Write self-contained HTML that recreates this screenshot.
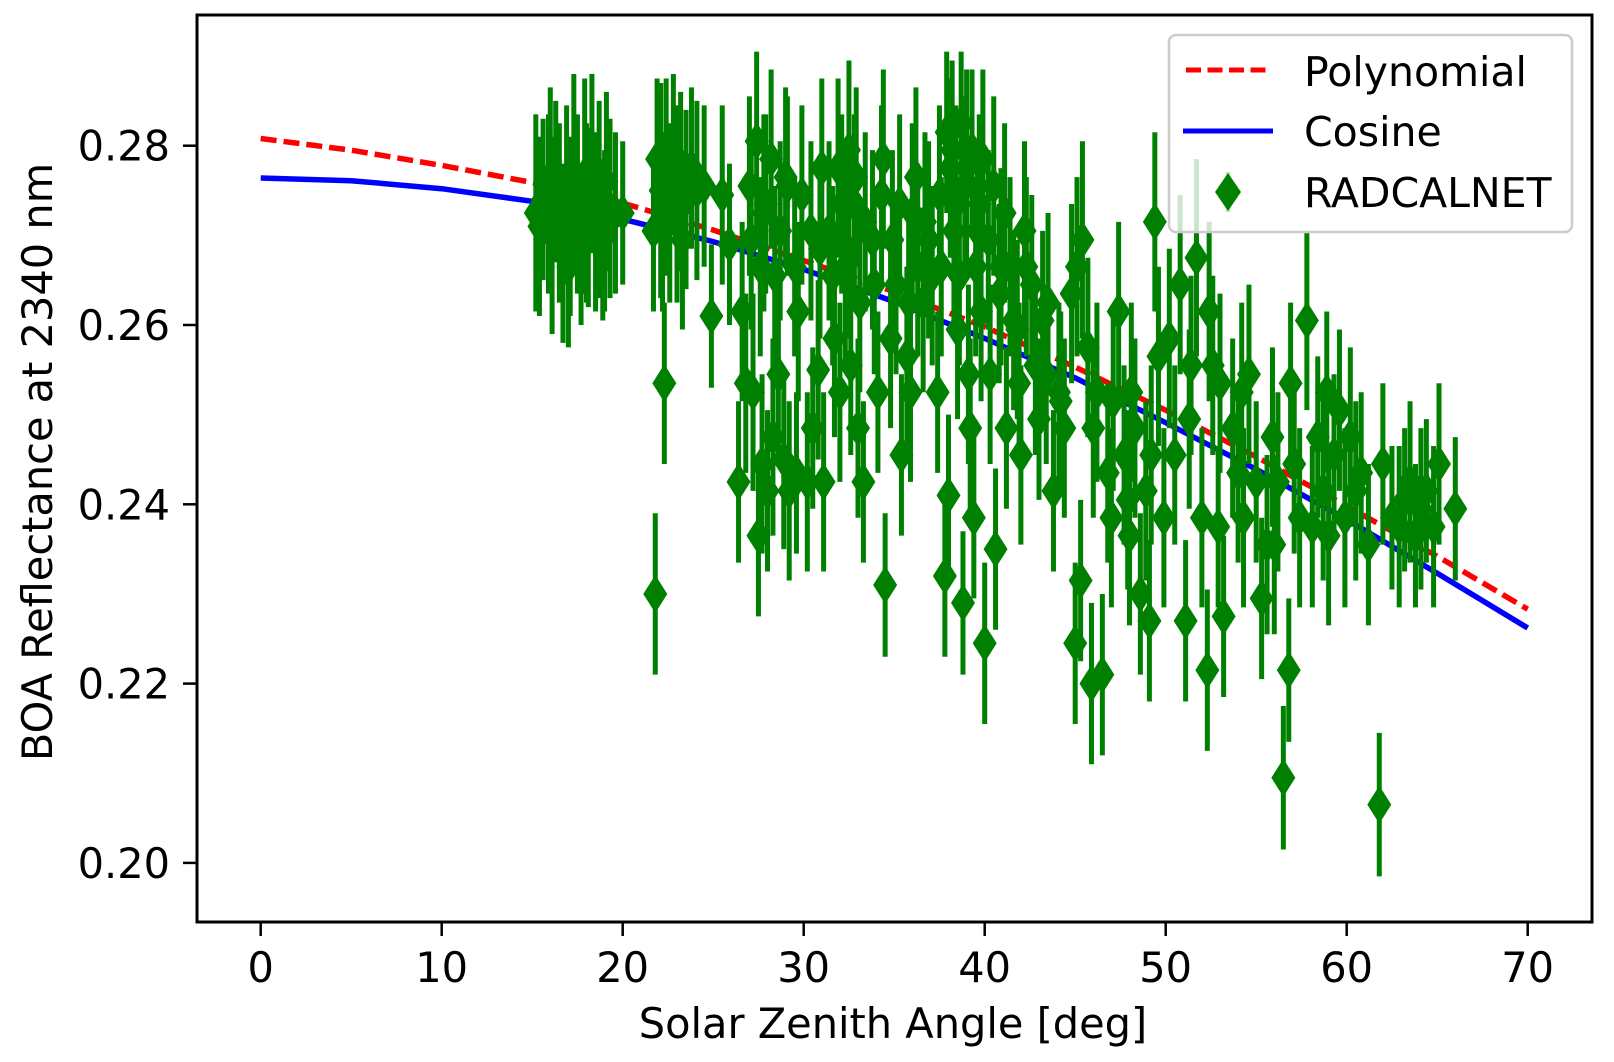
<!DOCTYPE html>
<html><head><meta charset="utf-8"><style>
html,body{margin:0;padding:0;background:#fff;}
svg{display:block;font-family:"DejaVu Sans","Liberation Sans",sans-serif;}
</style></head><body>
<svg id="chart" width="1614" height="1062" viewBox="0 0 1614 1062" xmlns="http://www.w3.org/2000/svg">
<defs><clipPath id="plotclip"><rect x="197" y="15" width="1395" height="907"/></clipPath></defs>
<rect x="0" y="0" width="1614" height="1062" fill="#fff"/>
<g id="curves" clip-path="url(#plotclip)"></g>
<g id="points" clip-path="url(#plotclip)"></g>
<rect x="197" y="15" width="1395" height="907" fill="none" stroke="#000" stroke-width="3"/>
<g id="xticks"></g>
<g id="yticks"></g>
<text x="893" y="1038" font-size="41.5" text-anchor="middle">Solar Zenith Angle [deg]</text>
<text transform="translate(52,462) rotate(-90)" font-size="41.5" text-anchor="middle">BOA Reflectance at 2340 nm</text>
<g>
<rect x="1169" y="35" width="403" height="197" rx="7" fill="#fff" fill-opacity="0.8" stroke="#ccc" stroke-width="2.5"/>
<line x1="1186" y1="70" x2="1270" y2="70" stroke="#ff0000" stroke-width="5" stroke-dasharray="15,6.5"/>
<text x="1304" y="86" font-size="41">Polynomial</text>
<line x1="1183" y1="131" x2="1273" y2="131" stroke="#0000ff" stroke-width="5"/>
<text x="1304" y="146" font-size="41">Cosine</text>
<line x1="1228" y1="172" x2="1228" y2="212" stroke="#008000" stroke-width="5" stroke-opacity="0.2"/>
<polygon points="1228,173 1241,192 1228,211 1215,192" fill="#008000"/>
<text x="1304" y="207" font-size="41">RADCALNET</text>
</g>
</svg>
<script>
const xTicks=[0,10,20,30,40,50,60,70];
const yTicks=[0.20,0.22,0.24,0.26,0.28];
const yTickLabels=["0.20","0.22","0.24","0.26","0.28"];
const fitAngles=[0,5,10,15,20,25,30,35,40,45,50,55,60,65,70];
const polyValues=[0.2808,0.2795,0.2778,0.2759,0.2736,0.2706,0.2672,0.2637,0.2598,0.2553,0.2505,0.2453,0.2398,0.2342,0.2283];
const cosValues=[0.2764,0.2761,0.2752,0.2738,0.2718,0.2693,0.2662,0.2626,0.2585,0.2541,0.2491,0.2439,0.2383,0.2323,0.2262];
const sza=[15.2,15.4,15.6,15.9,16.1,16.3,16.5,16.7,16.9,17.1,17.3,17.5,17.7,17.9,18.1,18.3,18.5,18.7,18.9,19.1,19.3,19.6,20.0,16.0,17.0,18.0,19.0,
21.8,22.3,21.7,21.9,22.1,22.4,22.6,22.8,23.0,23.2,23.5,23.8,24.1,22.2,23.3,
24.9,25.5,25.9,24.5,26.4,
26.8,27.2,27.5,27.7,28.0,28.3,28.6,28.9,29.2,29.6,27.0,27.4,27.8,28.2,28.7,29.1,29.5,29.9,26.6,27.6,
30.2,30.5,30.8,31.1,31.4,31.7,32.0,32.3,32.5,32.8,33.1,30.9,31.9,32.6,33.0,33.3,
33.8,34.1,34.5,34.8,35.1,35.4,35.7,36.0,36.3,36.6,36.9,34.3,35.9,
37.4,37.8,38.0,38.2,38.4,38.6,38.8,39.0,39.2,39.4,39.6,39.8,40.0,40.3,40.6,40.9,41.2,37.6,39.1,38.5,
41.6,41.9,42.3,42.6,43.0,43.4,43.8,44.1,44.4,44.8,42.0,43.2,
45.0,45.3,45.1,45.4,45.7,45.9,46.2,46.5,46.8,47.1,47.4,46.0,47.0,
47.7,48.0,48.3,48.6,48.9,49.1,49.4,49.6,49.9,48.1,49.2,47.9,
50.2,50.5,50.8,51.1,51.4,51.7,52.0,52.3,52.6,52.9,53.2,51.3,52.4,53.0,
53.7,54.0,54.3,54.6,55.0,55.3,55.6,55.9,56.2,56.5,56.8,57.1,57.4,57.8,54.2,56.0,56.9,
58.1,58.4,58.7,59.0,59.3,59.6,59.9,60.2,60.5,60.8,61.2,61.8,62.0,58.9,
62.5,62.9,63.2,63.5,63.8,64.1,64.4,64.8,65.1,66.0,
27.1,27.9,28.4,29.0,29.7,30.4,31.0,31.6,32.1,32.4,32.9,33.4,33.9,34.4,34.9,35.3,35.8,36.2,36.7,37.1,37.5,37.9,38.1,38.3,38.7,38.9,39.3,39.5,39.7,39.9,40.2,40.5,40.8,41.1,41.4,41.8,42.2,42.8,43.5,44.2];
const refl=[.2725,.271,.274,.2735,.270,.276,.2725,.268,.2745,.271,.277,.2735,.269,.2755,.272,.278,.2715,.274,.2695,.276,.273,.2725,.2725,.2765,.2665,.2725,.2705,
.230,.2535,.2705,.2785,.275,.2765,.2725,.279,.2735,.276,.274,.2775,.275,.2715,.2695,
.261,.2745,.269,.2755,.2425,
.2535,.2525,.2365,.2445,.2415,.2475,.2545,.245,.2415,.2435,.2755,.2805,.2725,.2785,.2705,.2755,.2665,.2745,.2615,.2665,
.2425,.2485,.255,.2425,.2705,.2585,.2525,.2665,.2795,.2735,.2625,.2685,.2775,.2555,.2485,.2425,
.2695,.2525,.2310,.2585,.2645,.2455,.2565,.2725,.2665,.2625,.2695,.2745,.2525,
.2525,.2320,.2410,.2795,.2735,.2655,.2290,.2775,.2485,.2385,.2705,.2615,.2245,.2545,.2350,.2665,.2485,.2665,.2545,.2595,
.2605,.2535,.2665,.2645,.2495,.2545,.2415,.2525,.2485,.2635,.2455,.2605,
.2245,.2315,.2665,.2695,.2575,.2200,.2525,.2210,.2435,.2515,.2615,.2485,.2385,
.2455,.2365,.2485,.2300,.2415,.2270,.2715,.2565,.2385,.2525,.2455,.2405,
.2585,.2455,.2645,.2270,.2555,.2675,.2385,.2215,.2555,.2375,.2275,.2495,.2615,.2535,
.2485,.2435,.2385,.2545,.2425,.2295,.2355,.2475,.2425,.2095,.2215,.2445,.2385,.2605,.2525,.2355,.2535,
.2375,.2475,.2415,.2365,.2455,.2505,.2385,.2475,.2415,.2435,.2355,.2065,.2445,.2525,
.2385,.2375,.2405,.2425,.2365,.2395,.2415,.2375,.2445,.2395,
.2695,.2735,.2655,.2765,.2615,.2705,.2775,.2655,.2735,.2685,.2765,.2715,.2645,.2785,.2695,.2735,.2625,.2765,.2715,.2655,.2745,.2815,.2775,.2705,.2825,.2755,.2795,.2665,.2735,.2785,.2695,.2755,.2635,.2725,.2665,.2595,.2705,.2555,.2625,.2515];
const reflErr=[.011,.01,.009,.01,.011,.009,.01,.01,.01,.01,.011,.01,.009,.012,.01,.01,.01,.011,.009,.01,.01,.009,.008,.01,.009,.01,.009,
.009,.009,.009,.009,.012,.011,.01,.009,.011,.01,.01,.009,.01,.01,.01,
.008,.01,.009,.009,.009,
.01,.011,.009,.01,.009,.011,.01,.01,.01,.009,.01,.01,.011,.01,.01,.01,.01,.01,.01,.01,
.01,.009,.01,.01,.01,.011,.01,.011,.01,.01,.01,.01,.01,.01,.01,.009,
.01,.009,.008,.01,.01,.009,.01,.01,.01,.01,.011,.01,.01,
.009,.009,.009,.01,.011,.01,.008,.011,.01,.009,.01,.01,.009,.01,.009,.011,.009,.01,.01,.01,
.01,.009,.01,.01,.009,.01,.009,.01,.01,.01,.01,.01,
.009,.009,.01,.011,.01,.009,.01,.009,.01,.01,.01,.01,.01,
.01,.01,.01,.009,.01,.009,.01,.01,.01,.01,.01,.01,
.01,.01,.01,.009,.01,.011,.01,.009,.01,.009,.009,.01,.01,.01,
.01,.01,.01,.01,.009,.009,.01,.01,.01,.008,.008,.01,.01,.01,.01,.01,.009,
.009,.009,.01,.01,.009,.009,.01,.01,.01,.009,.009,.008,.009,.009,
.008,.009,.008,.009,.008,.009,.008,.009,.009,.008,
.01,.01,.01,.01,.01,.01,.01,.01,.01,.01,.01,.01,.01,.01,.01,.01,.01,.01,.01,.01,.01,.009,.01,.01,.008,.01,.009,.01,.01,.01,.01,.01,.01,.01,.01,.01,.01,.01,.01,.01];

const NS="http://www.w3.org/2000/svg";
const X0=260.7, XS=18.1;
const Y28=145.7, YS=179.3/0.02;
function xScale(v){return X0+v*XS;}
function yScale(v){return Y28+(0.28-v)*YS;}
function mk(tag,attrs,parent){const e=document.createElementNS(NS,tag);for(const k in attrs)e.setAttribute(k,attrs[k]);parent.appendChild(e);return e;}

const xg=document.getElementById('xticks');
xTicks.forEach(t=>{
  const x=xScale(t);
  const l=mk('line',{x1:x,y1:922,x2:x,y2:936,stroke:'#000','stroke-width':2.5},xg);
  
  
  const tx=mk('text',{x:x,y:982,'font-size':41.5,'text-anchor':'middle'},xg);
  
  
  tx.textContent=String(t);
});
const yg=document.getElementById('yticks');
yTicks.forEach((t,i)=>{
  const y=yScale(t);
  const l=mk('line',{x1:183,y1:y,x2:197,y2:y,stroke:'#000','stroke-width':2.5},yg);
  
  
  const tx=mk('text',{x:170,y:y+15,'font-size':41.5,'text-anchor':'end'},yg);
  
  
  tx.textContent=yTickLabels[i];
});

const cg=document.getElementById('curves');
function path(vals){return fitAngles.map((a,i)=>(i?'L':'M')+xScale(a).toFixed(1)+','+yScale(vals[i]).toFixed(1)).join(' ');}
const pp=mk('path',{d:path(polyValues),fill:'none',stroke:'#ff0000','stroke-width':5.5,'stroke-dasharray':'16,7'},cg);


const cp=mk('path',{d:path(cosValues),fill:'none',stroke:'#0000ff','stroke-width':5.5},cg);



const pg=document.getElementById('points');
sza.forEach((a,i)=>{
  const x=xScale(a);
  const e=mk('line',{x1:x,y1:yScale(refl[i]+reflErr[i]),x2:x,y2:yScale(refl[i]-reflErr[i]),stroke:'#008000','stroke-width':5},pg);
  
  
});
sza.forEach((a,i)=>{
  const x=xScale(a), y=yScale(refl[i]);
  const m=mk('polygon',{points:`${x},${y-19} ${x+12},${y} ${x},${y+19} ${x-12},${y}`,fill:'#008000'},pg);
  
  
});
</script>
</body></html>
